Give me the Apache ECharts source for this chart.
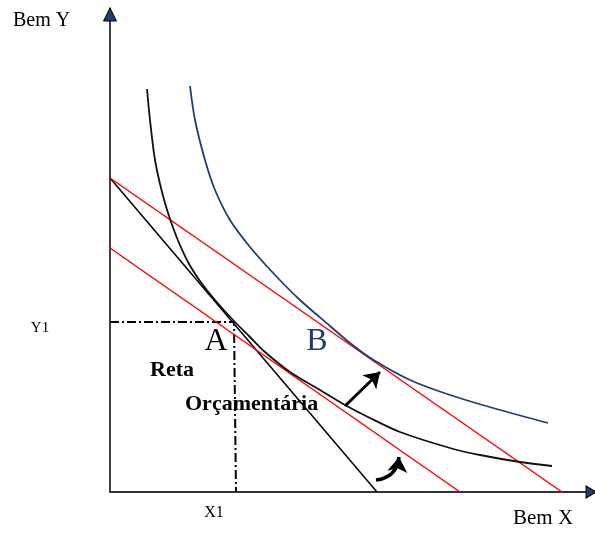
<!DOCTYPE html>
<html>
<head>
<meta charset="utf-8">
<script src="https://cdn.jsdelivr.net/npm/echarts@6/dist/echarts.min.js"></script>
<style>
  html, body { margin: 0; padding: 0; background: #fff; }
  #chart { width: 595px; height: 535px; }
</style>
</head>
<body>
<div id="chart"></div>
<script>
// Quantities of good X (horizontal) and good Y (vertical), arbitrary units
const budgetLine = [[0, 314], [267, 0]];          // initial budget line
const budgetShiftedUp = [[0, 314], [452, 0]];     // rotated budget line (cheaper X)
const budgetParallel = [[0, 244], [350, 0]];      // parallel line at new prices, old utility

// Indifference curve through A
const curveA = [
  [37, 403], [40, 372], [45, 332], [52, 300], [59, 276], [67, 254],
  [78, 230], [90, 211], [105, 192], [123, 172], [140, 155], [155, 140],
  [180, 120], [210, 102], [235, 87], [260, 74], [290, 60], [340, 44],
  [370, 37], [410, 30], [442, 26]
];
// Higher indifference curve through B
const curveB = [
  [80, 406], [85, 372], [95, 332], [105, 302], [120, 272], [140, 245],
  [165, 217], [190, 192], [220, 166], [240, 149], [262, 133], [300, 112],
  [340, 97], [390, 82], [438, 69]
];

// Optimal choice A: X1, Y1
const guideLines = [[0, 170], [124, 170], [126, 0]];

// Shift arrows
const arrowStraight = [[235, 86], [270, 120]];
const arrowCurved = [[266, 12], [289, 35]];

const axisMax = { x: 485, y: 484 };

const SERIF = '"Liberation Serif", "Times New Roman", serif';
const NAVY = '#1f3f73';

// Text annotations anchored in data space
const annotations = [
  { text: 'A', at: [106, 150], size: 32, color: '#000', weight: 'normal', align: 'center' },
  { text: 'B', at: [207, 150], size: 32, color: NAVY, weight: 'normal', align: 'center' },
  { text: 'Reta', at: [40, 122], size: 22, color: '#000', weight: 'bold', align: 'left' },
  { text: 'Orçamentária', at: [75, 88], size: 22, color: '#000', weight: 'bold', align: 'left' },
  { text: 'Y1', at: [-70, 164], size: 15, color: '#000', weight: 'normal', align: 'center' },
  { text: 'X1', at: [104, -21], size: 16, color: '#000', weight: 'normal', align: 'center' }
];

const chart = echarts.init(document.getElementById('chart'), null, { renderer: 'canvas' });

function lineSeries(data, color, width, extra) {
  return Object.assign({
    type: 'line',
    data: data,
    showSymbol: false,
    silent: true,
    lineStyle: { color: color, width: width, opacity: 1 },
    z: 3
  }, extra || {});
}

const option = {
  animation: false,
  backgroundColor: '#fff',
  grid: { left: 110, right: 0, top: 8, bottom: 43 },
  xAxis: {
    type: 'value', min: 0, max: axisMax.x,
    axisLine: { show: true, onZero: false, lineStyle: { color: '#333', width: 2 } },
    axisTick: { show: false }, axisLabel: { show: false }, splitLine: { show: false }
  },
  yAxis: {
    type: 'value', min: 0, max: axisMax.y,
    axisLine: { show: true, onZero: false, lineStyle: { color: '#000', width: 1.5 } },
    axisTick: { show: false }, axisLabel: { show: false }, splitLine: { show: false }
  },
  graphic: [
    { type: 'text', left: 13, top: 11, style: { text: 'Bem Y', font: '20px ' + SERIF, fill: '#000' } },
    { type: 'text', left: 513, top: 508, style: { text: 'Bem X', font: '21px ' + SERIF, fill: '#000' } }
  ],
  series: [
    lineSeries(guideLines, '#000', 2, { lineStyle: { color: '#000', width: 2, type: [9, 3, 2, 3], opacity: 1 } }),
    lineSeries(budgetLine, '#000', 1.5),
    lineSeries(budgetShiftedUp, '#ff0000', 1.5),
    lineSeries(budgetParallel, '#ff0000', 1.5),
    lineSeries(curveA, '#111', 1.8, { smooth: 0.3 }),
    lineSeries(curveB, NAVY, 1.8, { smooth: 0.3 }),
    {
      type: 'lines',
      coordinateSystem: 'cartesian2d',
      silent: true,
      symbol: ['none', 'arrow'],
      symbolSize: 15,
      lineStyle: { color: '#000', width: 3, curveness: 0, opacity: 1 },
      data: [{ coords: arrowStraight }],
      z: 4
    },
    {
      type: 'lines',
      coordinateSystem: 'cartesian2d',
      silent: true,
      symbol: ['none', 'arrow'],
      symbolSize: 15,
      lineStyle: { color: '#000', width: 3.5, curveness: -0.4, opacity: 1 },
      data: [{ coords: arrowCurved }],
      z: 4
    },
    {
      // axis arrowheads
      type: 'scatter',
      silent: true,
      clip: false,
      z: 5,
      itemStyle: { color: NAVY, borderColor: '#000', borderWidth: 1, opacity: 1 },
      data: [
        { value: [0, axisMax.y - 6.5], symbol: 'triangle', symbolSize: [13, 13] },
        { value: [axisMax.x - 4, 0], symbol: 'triangle', symbolSize: [12, 10], symbolRotate: -90 }
      ]
    },
    {
      // text annotations
      type: 'scatter',
      silent: true,
      clip: false,
      symbolSize: 0,
      z: 6,
      itemStyle: { opacity: 1 },
      data: annotations.map(a => ({
        value: a.at,
        label: {
          show: true,
          position: 'inside',
          formatter: a.text,
          fontFamily: SERIF,
          fontSize: a.size,
          fontWeight: a.weight,
          color: a.color,
          opacity: 1,
          align: a.align,
          verticalAlign: 'middle'
        }
      }))
    }
  ]
};

chart.setOption(option);
</script>
</body>
</html>
